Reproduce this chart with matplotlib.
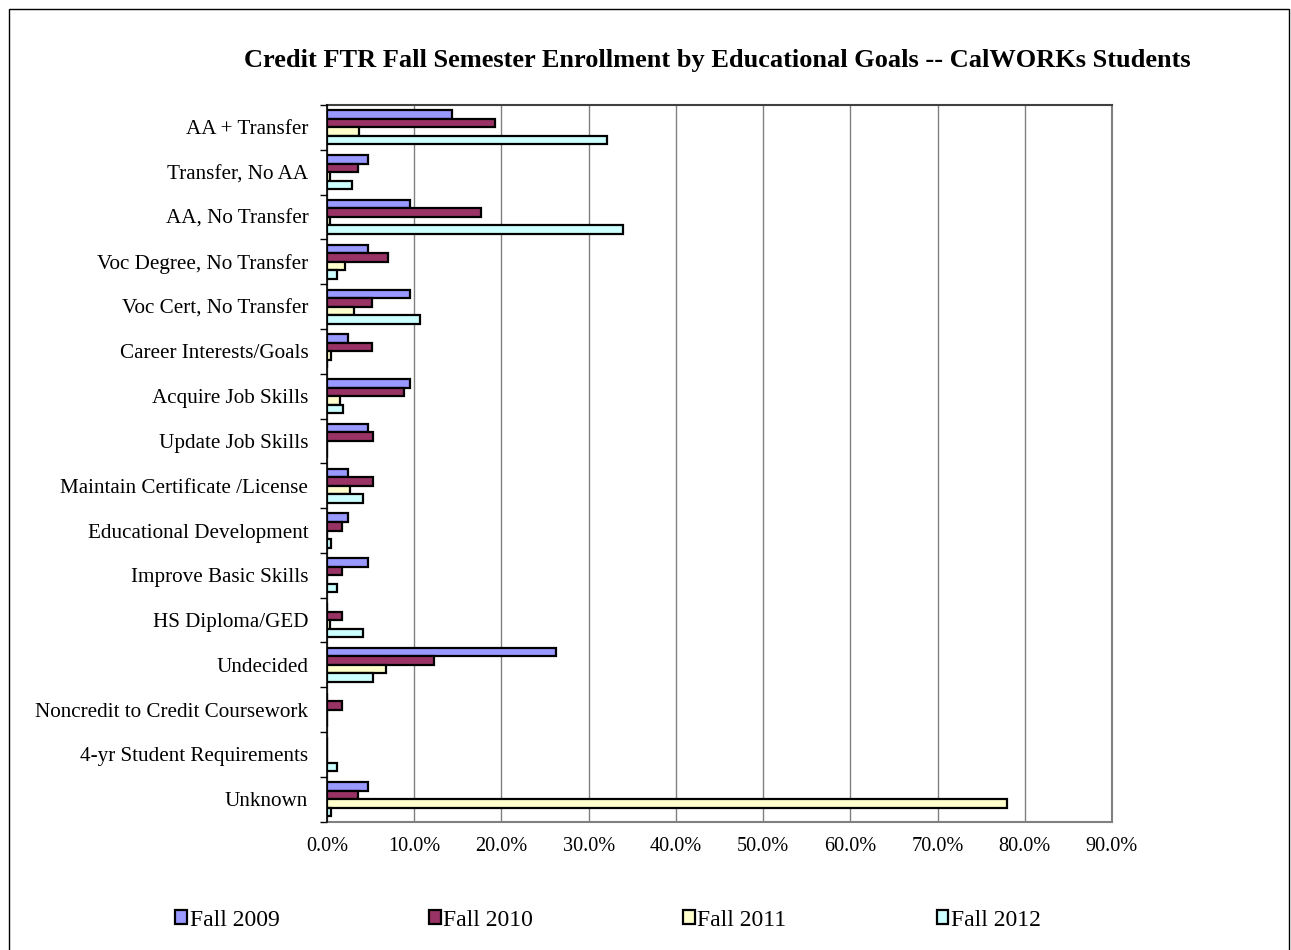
import matplotlib
matplotlib.use("Agg")
import matplotlib.pyplot as plt
from matplotlib.patches import Rectangle, Patch
from matplotlib.ticker import FixedLocator, PercentFormatter

plt.rcParams['font.family'] = ['Liberation Serif', 'DejaVu Serif']

goals = ['AA + Transfer', 'Transfer, No AA', 'AA, No Transfer', 'Voc Degree, No Transfer',
         'Voc Cert, No Transfer', 'Career Interests/Goals', 'Acquire Job Skills',
         'Update Job Skills', 'Maintain Certificate /License', 'Educational Development',
         'Improve Basic Skills', 'HS Diploma/GED', 'Undecided',
         'Noncredit to Credit Coursework', '4-yr Student Requirements', 'Unknown']

fall_2009 = [14.3, 4.7, 9.5, 4.7, 9.5, 2.4, 9.5, 4.7, 2.4, 2.4, 4.7, 0.0, 26.2, 0.0, 0.0, 4.7]
fall_2010 = [19.3, 3.5, 17.6, 7.0, 5.2, 5.2, 8.8, 5.3, 5.3, 1.7, 1.7, 1.7, 12.3, 1.7, 0.0, 3.5]
fall_2011 = [3.7, 0.4, 0.4, 2.1, 3.1, 0.5, 1.5, 0.0, 2.6, 0.0, 0.0, 0.4, 6.8, 0.0, 0.0, 78.0]
fall_2012 = [32.1, 2.9, 33.9, 1.2, 10.7, 0.0, 1.8, 0.0, 4.1, 0.5, 1.2, 4.1, 5.3, 0.0, 1.2, 0.5]

series = [('Fall 2009', fall_2009, '#9999FF'),
          ('Fall 2010', fall_2010, '#993366'),
          ('Fall 2011', fall_2011, '#FFFFCC'),
          ('Fall 2012', fall_2012, '#CCFFFF')]

fig = plt.figure(figsize=(12.91, 9.5), dpi=100)
ax = fig.add_axes([0.2533, 0.1351, 0.608, 0.7544])

# outer chart border
fig.patches.append(Rectangle((9 / 1291, -0.01), 1280 / 1291, 1 - 9 / 950 + 0.01,
                             transform=fig.transFigure, fill=False, ec='black', lw=1))

h = 0.19
pos = list(range(len(goals)))
for k, (name, vals, col) in enumerate(series):
    off = (k - 1.5) * h
    ax.barh([p + off for p in pos], vals, height=h, color=col, edgecolor='black',
            linewidth=1.6, label=name, zorder=3)

ax.set_xlim(0, 90)
ax.set_ylim(len(goals) - 0.5, -0.5)
ax.set_xticks(range(0, 91, 10))
ax.xaxis.set_major_formatter(PercentFormatter(decimals=1))
ax.set_yticks(pos)
ax.set_yticklabels(goals)
ax.yaxis.set_minor_locator(FixedLocator([p - 0.5 for p in range(len(goals) + 1)]))
ax.tick_params(axis='y', which='major', length=0, pad=13.5, labelsize=15.2)
ax.tick_params(axis='y', which='minor', length=5, width=1, direction='out')
ax.tick_params(axis='x', length=0, pad=11, labelsize=14.6)
ax.grid(axis='x', color='#808080', lw=1, zorder=0)

for s in ['top', 'right', 'bottom']:
    ax.spines[s].set_color('#808080')
    ax.spines[s].set_linewidth(1.5)
ax.spines['top'].set_color('#404040')
ax.spines['left'].set_color('black')
ax.spines['left'].set_linewidth(1.2)
ax.spines['left'].set_zorder(4)

fig.text(717 / 1291, 1 - 60 / 950, 'Credit FTR Fall Semester Enrollment by Educational Goals -- CalWORKs Students',
         ha='center', va='center', fontsize=19, fontweight='bold')

handles = [Patch(facecolor=c, edgecolor='black', linewidth=1.6) for _, _, c in series]
fig.legend(handles, [n for n, _, _ in series], loc='center', ncol=4,
           bbox_to_anchor=(608 / 1291, 1 - 920 / 950), frameon=False, fontsize=17,
           handlelength=0.5, handleheight=0.5, handletextpad=0.1, columnspacing=6.35)

fig.savefig('out.png', dpi=100)
